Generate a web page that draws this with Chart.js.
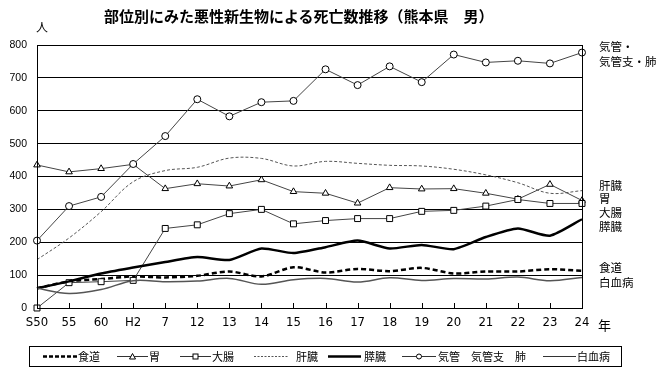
<!DOCTYPE html>
<html><head><meta charset="utf-8">
<script src="https://cdn.jsdelivr.net/npm/chart.js@4"></script>
<style>
html,body{margin:0;padding:0;background:#fff;}
#wrap{position:relative;width:666px;height:380px;overflow:hidden;font-family:"Noto Sans CJK JP","Noto Sans",sans-serif;color:#000;}
#c{position:absolute;left:0;top:0;}
.t{position:absolute;white-space:nowrap;line-height:1;}
#title{left:104px;top:8px;font-size:15px;font-weight:bold;}
.rl{font-size:11.5px;left:599px;}
#legend{position:absolute;left:29px;top:346px;width:593px;height:21px;border:1px solid #000;box-sizing:border-box;}
#legend .li{position:absolute;top:0;height:19px;font-size:11px;line-height:19px;white-space:nowrap;}
#legend svg{position:absolute;top:0;}
</style></head>
<body><div id="wrap">
<canvas id="c" width="666" height="380"></canvas>
<div id="title" class="t">部位別にみた悪性新生物による死亡数推移（熊本県　男）</div>
<div class="t" style="left:36px;top:21px;font-size:12px;">人</div>
<div class="t" style="left:598px;top:318px;font-size:13px;">年</div>
<div class="t rl" style="top:41px;">気管・</div>
<div class="t rl" style="top:56px;">気管支・肺</div>
<div class="t rl" style="top:180px;">肝臓</div>
<div class="t rl" style="top:193px;">胃</div>
<div class="t rl" style="top:207px;">大腸</div>
<div class="t rl" style="top:221px;">膵臓</div>
<div class="t rl" style="top:262px;">食道</div>
<div class="t rl" style="top:277px;">白血病</div>
<div id="legend"></div>
</div>
<script>
const categories = ['S50','55','60','H2','7','12','13','14','15','16','17','18','19','20','21','22','23','24'];
const esophagus = [60,81,88,96,93,98,111,96,124,108,119,112,122,105,111,111,118,113];
const stomach   = [435,414,424,437,363,378,371,390,354,349,319,366,362,363,349,331,376,327];
const colon     = [0,77,80,84,242,253,287,300,256,266,272,272,294,297,310,330,318,318];
const liver     = [147,213,293,384,418,428,456,455,432,446,440,434,432,422,405,381,349,357];
const pancreas  = [60,81,105,123,140,155,146,181,167,185,205,181,192,179,216,242,220,270];
const lung      = [205,310,338,438,523,635,583,626,630,726,678,735,687,771,747,752,744,777];
const leukemia  = [60,44,56,83,80,82,90,72,86,90,79,92,84,90,88,94,83,93];
const seriesNames = ['食道','胃','大腸','肝臓','膵臓','気管　気管支　肺','白血病'];
const yTicks = [0,100,200,300,400,500,600,700,800];

const frame = {
  id:'frame',
  afterDatasetsDraw(chart){
    const {ctx, chartArea:a, scales:{x}} = chart;
    ctx.save();
    ctx.strokeStyle='#000'; ctx.lineWidth=1;
    ctx.strokeRect(Math.round(a.left)+0.5, Math.round(a.top)+0.5, Math.round(a.right-a.left), Math.round(a.bottom-a.top));
    ctx.beginPath();
    for(let i=0;i<categories.length;i++){
      const px=Math.round(x.getPixelForValue(i))+0.5;
      ctx.moveTo(px,Math.round(a.bottom)); ctx.lineTo(px,Math.round(a.bottom)-5);
    }
    ctx.stroke();
    ctx.restore();
  }
};

const common = {fill:false, clip:false, pointHoverRadius:0};
new Chart(document.getElementById('c'), {
  type:'line',
  data:{labels:categories, datasets:[
    {...common, label:seriesNames[6], data:leukemia, borderColor:'#555', borderWidth:1.5, pointRadius:0, tension:0.35},
    {...common, label:seriesNames[5], data:lung, borderColor:'#444', borderWidth:1, pointStyle:'circle', pointRadius:3.5, pointBackgroundColor:'#fff', pointBorderColor:'#000', pointBorderWidth:1, tension:0},
    {...common, label:seriesNames[4], data:pancreas, borderColor:'#000', borderWidth:2.5, pointRadius:0, tension:0.2},
    {...common, label:seriesNames[3], data:liver, borderColor:'#555', borderWidth:1, borderDash:[3,2], pointRadius:0, tension:0.35},
    {...common, label:seriesNames[2], data:colon, borderColor:'#444', borderWidth:1, pointStyle:'rect', pointRadius:4.2, pointBackgroundColor:'#fff', pointBorderColor:'#000', pointBorderWidth:1, tension:0},
    {...common, label:seriesNames[1], data:stomach, borderColor:'#444', borderWidth:1, pointStyle:'triangle', pointRadius:3.8, pointBackgroundColor:'#fff', pointBorderColor:'#000', pointBorderWidth:1, tension:0},
    {...common, label:seriesNames[0], data:esophagus, borderColor:'#000', borderWidth:2.5, borderDash:[5,3], pointRadius:0, tension:0.3}
  ]},
  options:{
    responsive:false, animation:false, events:[],
    layout:{padding:{top:45,right:84,bottom:42,left:0}},
    plugins:{legend:{display:false}, title:{display:false}, tooltip:{enabled:false}},
    scales:{
      x:{
        offset:false,
        afterFit(s){s.height=30;},
        grid:{display:false, drawTicks:false},
        border:{display:true,color:'#000',width:1},
        ticks:{padding:7, color:'#000', maxRotation:0, autoSkip:false,
          font:{family:"'Liberation Sans Narrow','DejaVu Sans Condensed','Liberation Sans',sans-serif", size:13}}
      },
      y:{
        min:0, max:800,
        afterFit(s){s.width=37;},
        afterBuildTicks(s){s.ticks = yTicks.map(v=>({value:v}));},
        grid:{color:'#000', lineWidth:1, drawTicks:false},
        border:{display:true,color:'#000',width:1},
        ticks:{padding:10, color:'#000', font:{family:"'Liberation Sans',Arial,sans-serif", size:10.5}}
      }
    }
  },
  plugins:[frame]
});

// legend
const lg = document.getElementById('legend');
function sample(x, w, opts){
  const ns='http://www.w3.org/2000/svg';
  const svg=document.createElementNS(ns,'svg');
  svg.setAttribute('width',w); svg.setAttribute('height',19);
  svg.style.left=x+'px';
  const ln=document.createElementNS(ns,'line');
  ln.setAttribute('x1',0); ln.setAttribute('x2',w); ln.setAttribute('y1',9.5); ln.setAttribute('y2',9.5);
  ln.setAttribute('stroke',opts.color); ln.setAttribute('stroke-width',opts.width);
  if(opts.dash) ln.setAttribute('stroke-dasharray',opts.dash);
  svg.appendChild(ln);
  const cx=w/2, cy=9.5;
  let m=null;
  if(opts.marker==='circle'){m=document.createElementNS(ns,'circle');m.setAttribute('cx',cx);m.setAttribute('cy',cy);m.setAttribute('r',2.5);}
  if(opts.marker==='rect'){m=document.createElementNS(ns,'rect');m.setAttribute('x',cx-2.5);m.setAttribute('y',cy-2.5);m.setAttribute('width',5);m.setAttribute('height',5);}
  if(opts.marker==='tri'){m=document.createElementNS(ns,'polygon');m.setAttribute('points',`${cx},${cy-3} ${cx-3},${cy+2.5} ${cx+3},${cy+2.5}`);}
  if(m){m.setAttribute('fill','#fff');m.setAttribute('stroke','#000');m.setAttribute('stroke-width',1);svg.appendChild(m);}
  lg.appendChild(svg);
}
function label(x, txt){
  const d=document.createElement('div'); d.className='li'; d.style.left=x+'px'; d.textContent=txt; lg.appendChild(d);
}
const L = [
  {sx:13, sw:34, o:{color:'#000',width:2.5,dash:'4,2'}, tx:48, name:seriesNames[0]},
  {sx:87, sw:31, o:{color:'#333',width:1,marker:'tri'}, tx:119, name:seriesNames[1]},
  {sx:150, sw:31, o:{color:'#333',width:1,marker:'rect'}, tx:182, name:seriesNames[2]},
  {sx:224, sw:34, o:{color:'#555',width:1,dash:'2,1.5'}, tx:266, name:seriesNames[3]},
  {sx:298, sw:33, o:{color:'#000',width:2.5}, tx:334, name:seriesNames[4]},
  {sx:372, sw:34, o:{color:'#333',width:1,marker:'circle'}, tx:408, name:seriesNames[5]},
  {sx:513, sw:33, o:{color:'#333',width:1}, tx:547, name:seriesNames[6]}
];
L.forEach(it=>{sample(it.sx,it.sw,it.o); label(it.tx,it.name);});
</script>
</body></html>
